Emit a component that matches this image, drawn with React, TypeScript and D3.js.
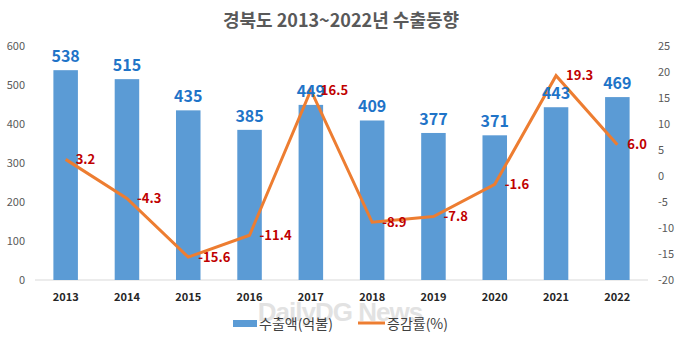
import React from "react";
import * as d3 from "d3";

const years = ["2013", "2014", "2015", "2016", "2017", "2018", "2019", "2020", "2021", "2022"];
const exports = [538, 515, 435, 385, 449, 409, 377, 371, 443, 469];
const growth = [3.2, -4.3, -15.6, -11.4, 16.5, -8.9, -7.8, -1.6, 19.3, 6.0];
const leftTicks = [0, 100, 200, 300, 400, 500, 600];
const rightTicks = [-20, -15, -10, -5, 0, 5, 10, 15, 20, 25];

const W = 680;
const H = 344;
const font = "'Noto Sans CJK KR', 'Noto Sans', sans-serif";

export default function App() {
  const x = d3.scaleBand<string>().domain(years).range([35, 648]).paddingInner(0.6).paddingOuter(0.3);
  const yL = d3.scaleLinear().domain([0, 600]).range([280, 46]);
  const yR = d3.scaleLinear().domain([-20, 25]).range([280, 46]);
  const cx = (d: string) => (x(d) as number) + x.bandwidth() / 2;
  const line = d3
    .line<number>()
    .x((_, i) => cx(years[i]))
    .y((d) => yR(d));

  return (
    <svg width={W} height={H} style={{ position: "absolute", left: 0, top: 0, background: "#fff" }} fontFamily={font}>
      <rect width={W} height={H} fill="#fff" />
      <text x={341} y={27} textAnchor="middle" fontSize={18} fontWeight="bold" fill="#595959">
        경북도 2013~2022년 수출동향
      </text>
      {leftTicks.map((t) => (
        <text key={"l" + t} x={25} y={yL(t)} dy="0.35em" textAnchor="end" fontSize={11} fill="#595959">
          {t}
        </text>
      ))}
      {rightTicks.map((t) => (
        <text key={"r" + t} x={658} y={yR(t)} dy="0.35em" textAnchor="start" fontSize={11} fill="#595959">
          {t}
        </text>
      ))}
      <line x1={35} x2={648} y1={yL(0)} y2={yL(0)} stroke="#d9d9d9" strokeWidth={1} />
      {years.map((yr, i) => (
        <rect key={"b" + yr} x={x(yr)} y={yL(exports[i])} width={x.bandwidth()} height={yL(0) - yL(exports[i])} fill="#5B9BD5" />
      ))}
      {years.map((yr) => (
        <text key={"x" + yr} x={cx(yr)} y={301} textAnchor="middle" fontSize={11} fontWeight="bold" fill="#262626">
          {yr}
        </text>
      ))}
      <path d={line(growth) || ""} fill="none" stroke="#ED7D31" strokeWidth={3} strokeLinejoin="miter" />
      {years.map((yr, i) => (
        <text key={"v" + yr} x={cx(yr)} y={yL(exports[i]) - 8} textAnchor="middle" fontSize={16} fontWeight="bold" fill="#1F74C8">
          {exports[i]}
        </text>
      ))}
      {years.map((yr, i) => (
        <text key={"g" + yr} x={cx(yr) + 10} y={yR(growth[i])} dy="0.35em" textAnchor="start" fontSize={13} fontWeight="bold" fill="#C00000">
          {growth[i].toFixed(1)}
        </text>
      ))}
      <text x={340} y={321} textAnchor="middle" fontSize={26} fontWeight="bold" fill="#d0d0d0" opacity={0.6} fontFamily="'Liberation Sans', sans-serif" letterSpacing={-1}>
        DailyDG News
      </text>
      <rect x={233} y={320} width={24} height={7} fill="#5B9BD5" />
      <text x={259} y={324} dy="0.35em" fontSize={14} fill="#404040">
        수출액(억불)
      </text>
      <line x1={358} x2={385} y1={323} y2={323} stroke="#ED7D31" strokeWidth={3} />
      <text x={387} y={324} dy="0.35em" fontSize={14} fill="#404040">
        증감률(%)
      </text>
    </svg>
  );
}
